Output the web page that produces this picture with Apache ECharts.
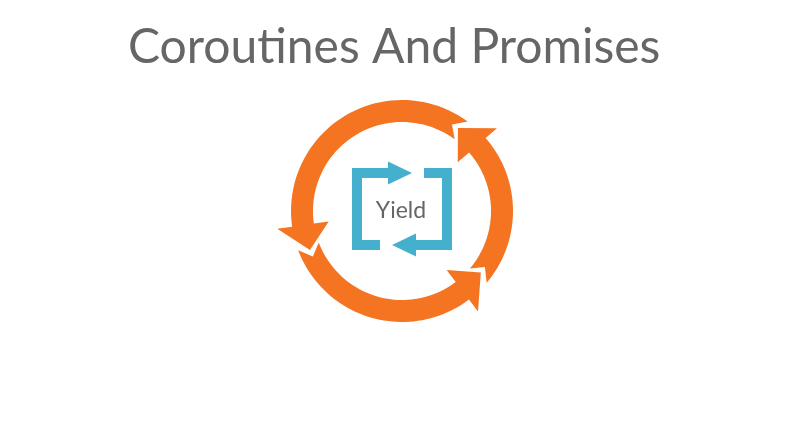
<!DOCTYPE html>
<html>
<head>
<meta charset="utf-8">
<script src="https://cdn.jsdelivr.net/npm/echarts@6/dist/echarts.min.js"></script>
<style>
  html, body { margin: 0; padding: 0; background: #fff; }
  #main { width: 800px; height: 421px; }
</style>
</head>
<body>
<div id="main"></div>
<script>
const titleText = 'Coroutines And Promises';
const centerLabels = ['Yield'];
// the three arrows of the cycle, angles in degrees (counter-clockwise from 3 o'clock)
const arcNames = ['top', 'right', 'bottom'];
const arcTail = [60, -34, 207];   // notch at the tail
const arcTip = [203, 56, 322];    // point of the head

const ORANGE = '#F47421';
const BLUE = '#44B0CE';

const toRad = d => d * Math.PI / 180;

function renderArc(params, api) {
  const s = toRad(api.value(0));
  const e = toRad(api.value(1));
  const rIn = 89, rOut = 111, rMid = 100, headHalf = 26;
  const notch = (rOut - rMid) / rMid;
  const b = e - headHalf / rMid; // base of the head
  const pt = (a, r) => api.coord([r * Math.cos(a), r * Math.sin(a)]);
  const pts = [];
  const n = 48;
  const a0 = s - notch;
  for (let k = 0; k <= n; k++) pts.push(pt(a0 + (b - a0) * k / n, rOut));
  pts.push(pt(b, rMid + headHalf));
  pts.push(pt(e, rMid));
  pts.push(pt(b, rMid - headHalf));
  for (let k = n; k >= 0; k--) pts.push(pt(a0 + (b - a0) * k / n, rIn));
  pts.push(pt(s, rMid));
  return {
    type: 'polygon',
    shape: { points: pts },
    style: { fill: ORANGE }
  };
}

function renderIcon(params, api) {
  const c = api.coord([api.value(0), api.value(1)]);
  const w = 50, h = 41, t = 10, stub = 28;
  const base = -14, tip = 10, hh = 11.5, ay = -h + t / 2;
  // left bracket with the arrow on its top arm
  const half = [
    [-w, -h], [base, -h], [base, ay - hh], [tip, ay], [base, ay + hh],
    [base, -h + t], [-w + t, -h + t], [-w + t, h - t], [-w + stub, h - t],
    [-w + stub, h], [-w, h]
  ];
  const left = half.map(p => [c[0] + p[0], c[1] + p[1]]);
  const right = half.map(p => [c[0] - p[0], c[1] - p[1]]);
  return {
    type: 'group',
    children: [
      { type: 'polygon', shape: { points: left }, style: { fill: BLUE } },
      { type: 'polygon', shape: { points: right }, style: { fill: BLUE } },
      {
        type: 'text',
        x: c[0] - 1,
        y: c[1] + 2,
        style: {
          text: centerLabels[params.dataIndex],
          fill: '#666',
          font: '23px Lato',
          align: 'center',
          verticalAlign: 'middle'
        }
      }
    ]
  };
}

const chart = echarts.init(document.getElementById('main'));
chart.setOption({
  backgroundColor: '#fff',
  animation: false,
  title: {
    text: titleText,
    left: 128,
    top: 24,
    padding: 0,
    textStyle: {
      fontFamily: 'Lato',
      fontSize: 48,
      fontWeight: 'normal',
      color: '#666'
    }
  },
  grid: { left: 282, top: 91, width: 240, height: 240 },
  xAxis: { type: 'value', min: -120, max: 120, show: false },
  yAxis: { type: 'value', min: -120, max: 120, show: false },
  series: [
    {
      type: 'custom',
      name: 'cycle',
      clip: false,
      renderItem: renderArc,
      data: arcNames.map((nm, i) => ({ name: nm, value: [arcTail[i], arcTip[i]] }))
    },
    {
      type: 'custom',
      name: 'yield',
      clip: false,
      renderItem: renderIcon,
      data: [[0, 2]]
    }
  ]
});
</script>
</body>
</html>
